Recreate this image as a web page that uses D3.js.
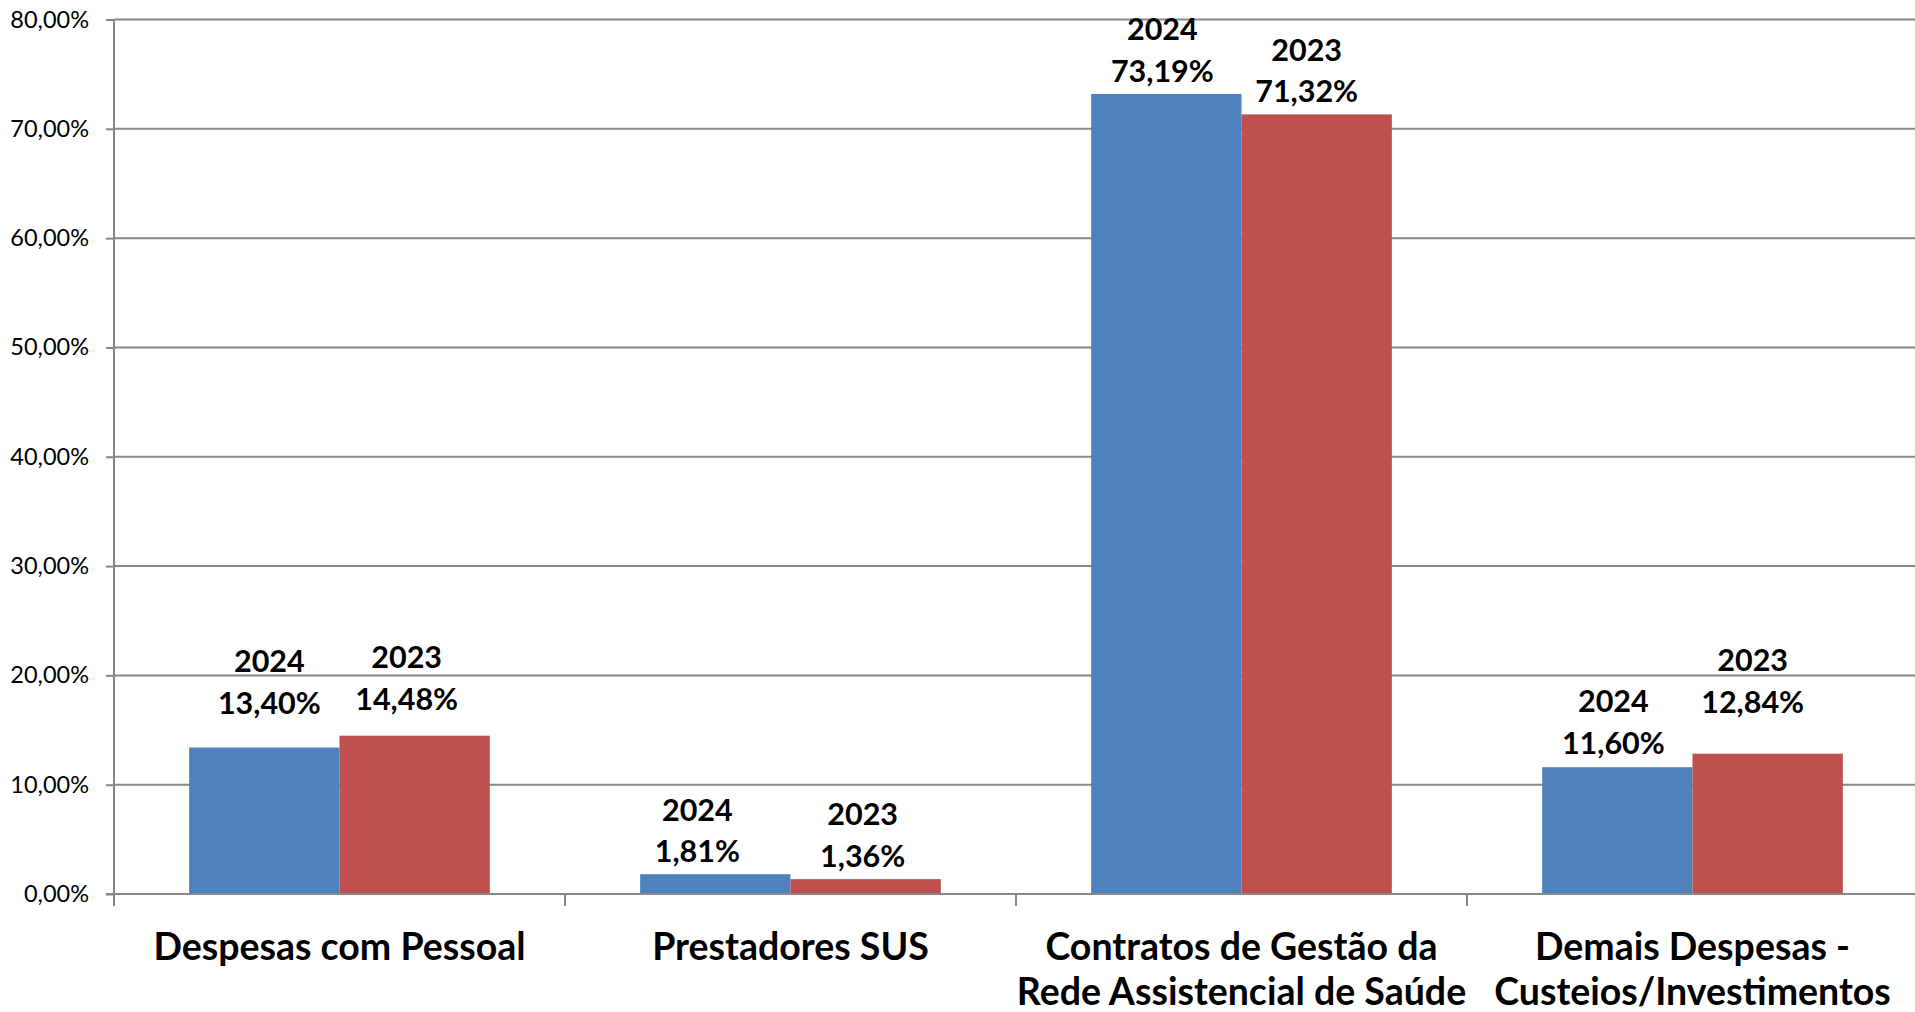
<!DOCTYPE html>
<html>
<head>
<meta charset="utf-8">
<script src="https://cdn.jsdelivr.net/npm/d3@7"></script>
<style>
  html, body { margin: 0; padding: 0; background: #ffffff; }
  svg { display: block; }
</style>
</head>
<body>
<svg id="chart" width="1915" height="1012"></svg>
<script>
// ---- data ----
const categories = [
  "Despesas com Pessoal",
  "Prestadores SUS",
  "Contratos de Gestão da\nRede Assistencial de Saúde",
  "Demais Despesas -\nCusteios/Investimentos"
];
const seriesNames = ["2024", "2023"];
const values2024 = [13.40, 1.81, 73.19, 11.60];
const values2023 = [14.48, 1.36, 71.32, 12.84];
const yTickValues = [0, 10, 20, 30, 40, 50, 60, 70, 80];

// ---- layout (kept apart from data) ----
const seriesColors = { "2024": "#4F81BD", "2023": "#C0504D" };
// manual label nudges per category [series2024, series2023]: [dx, extra lift px]
const labelNudge = [
  [[5, 22], [-8, 14]],
  [[-18, 0], [-3, 0]],
  [[-4, 0], [-10, 0]],
  [[-4, 1], [-15, 29]]
];

const svg = d3.select("#chart");
const plot = { left: 114, right: 1918, top: 19.5, bottom: 894 };

const fmt = d3.formatLocale({ decimal: ",", thousands: ".", grouping: [3], currency: ["R$", ""] });
const pct = v => fmt.format(".2f")(v) + "%";

const x0 = d3.scaleBand().domain(categories).range([plot.left, plot.right]).padding(0);
const x1 = d3.scaleBand().domain(seriesNames).range([0, x0.bandwidth()]).paddingInner(0).paddingOuter(0.5);
const y = d3.scaleLinear().domain([0, 80]).range([plot.bottom, plot.top]);

const gridColor = "#878787";

// gridlines
svg.append("g").selectAll("line").data(yTickValues.filter(d => d > 0)).join("line")
  .attr("x1", plot.left).attr("x2", plot.right)
  .attr("y1", d => y(d)).attr("y2", d => y(d))
  .attr("stroke", gridColor).attr("stroke-width", 2);

// bars
const rows = categories.map((c, i) => ({ cat: c, i, vals: [values2024[i], values2023[i]] }));
const groups = svg.append("g").selectAll("g").data(rows).join("g")
  .attr("transform", d => `translate(${x0(d.cat)},0)`);

groups.selectAll("rect").data(d => d.vals.map((v, k) => ({ v, k, s: seriesNames[k] }))).join("rect")
  .attr("x", d => x1(d.s))
  .attr("width", x1.bandwidth())
  .attr("y", d => y(d.v))
  .attr("height", d => y(0) - y(d.v))
  .attr("fill", d => seriesColors[d.s]);

// y axis
const yAxis = d3.axisLeft(y).tickValues(yTickValues).tickSize(8).tickPadding(17)
  .tickFormat(d => fmt.format(".2f")(d) + "%");
const gy = svg.append("g").attr("transform", `translate(${plot.left},0)`).call(yAxis);
gy.select(".domain").remove();
gy.selectAll(".tick line").attr("stroke", gridColor).attr("stroke-width", 2);
gy.selectAll(".tick text")
  .attr("font-family", "Lato, 'Open Sans', sans-serif")
  .attr("font-size", 23.5).attr("fill", "#000");
svg.append("line")
  .attr("x1", plot.left).attr("x2", plot.left)
  .attr("y1", plot.top).attr("y2", plot.bottom + 12)
  .attr("stroke", gridColor).attr("stroke-width", 2);

// x axis baseline and boundary ticks
svg.append("line")
  .attr("x1", plot.left - 8).attr("x2", plot.right)
  .attr("y1", y(0)).attr("y2", y(0))
  .attr("stroke", gridColor).attr("stroke-width", 2);
const boundaries = categories.map(c => x0(c)).concat([x0(categories[categories.length - 1]) + x0.bandwidth()]);
svg.append("g").selectAll("line").data(boundaries.slice(1)).join("line")
  .attr("x1", d => d).attr("x2", d => d)
  .attr("y1", y(0)).attr("y2", y(0) + 12)
  .attr("stroke", gridColor).attr("stroke-width", 2);

// category labels
svg.append("g").selectAll("text").data(categories).join("text")
  .attr("x", d => x0(d) + x0.bandwidth() / 2)
  .attr("y", 960)
  .attr("text-anchor", "middle")
  .attr("font-family", "Lato, 'Open Sans', sans-serif")
  .attr("font-weight", "bold")
  .attr("font-size", 37.5)
  .attr("fill", "#000")
  .each(function (d) {
    const lines = d.split("\n");
    d3.select(this).selectAll("tspan").data(lines).join("tspan")
      .attr("x", x0(d) + x0.bandwidth() / 2)
      .attr("dy", (l, j) => j === 0 ? 0 : 45)
      .text(l => l);
  });

// data labels
const labelGap = 12;
const lineStep = 41.7;
groups.each(function (row) {
  const g = d3.select(this);
  row.vals.forEach((v, k) => {
    const s = seriesNames[k];
    const [dx, lift] = labelNudge[row.i][k];
    const cx = x1(s) + x1.bandwidth() / 2 + dx;
    const base = y(v) - labelGap - lift;
    const t = g.append("text")
      .attr("text-anchor", "middle")
      .attr("font-family", "Lato, 'Open Sans', sans-serif")
      .attr("font-weight", "bold")
      .attr("font-size", 30.5)
      .attr("fill", "#000");
    t.append("tspan").attr("x", cx).attr("y", base - lineStep).text(s);
    t.append("tspan").attr("x", cx).attr("y", base).text(pct(v));
  });
});
</script>
</body>
</html>
